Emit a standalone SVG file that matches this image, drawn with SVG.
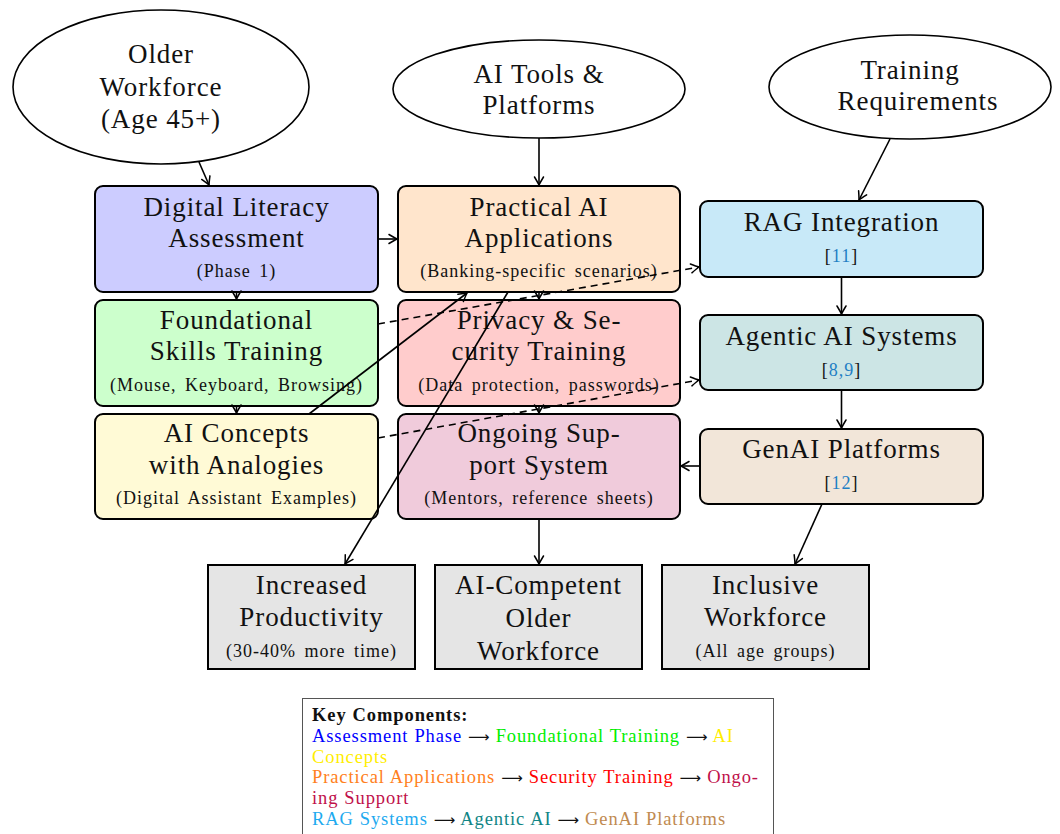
<svg xmlns="http://www.w3.org/2000/svg" width="1060" height="834" viewBox="0 0 1060 834">
  <style>
    text { font-family: "Liberation Serif", "Times New Roman", serif; fill: #111; }
    .t { font-size: 27px; text-anchor: middle; letter-spacing: 0.9px; }
    .s { font-size: 18px; text-anchor: middle; letter-spacing: 1px; word-spacing: 3px; }
    .ref { fill: #1f7fc4; }
    .src { fill: #fff; stroke: #000; stroke-width: 1.6; }
    .box { stroke: #000; stroke-width: 2; }
    .out { fill: #e5e5e5; stroke: #000; stroke-width: 2; }
    .c { fill: none; stroke: #000; stroke-width: 1.6; }
    .d { fill: none; stroke: #000; stroke-width: 1.6; stroke-dasharray: 7 5; }
    .lg { font-size: 18.5px; letter-spacing: 0.9px; word-spacing: 0.5px; }
    .ar { font-family: "DejaVu Sans", sans-serif; font-size: 15px; fill: #111; letter-spacing: 0; }
  </style>
  <defs>
    <marker id="arrow" viewBox="-10 -6 12 12" refX="0" refY="0" markerWidth="12" markerHeight="12" markerUnits="userSpaceOnUse" orient="auto">
      <path d="M -8 -4.5 Q -2.5 -1.2 0 0 Q -2.5 1.2 -8 4.5" fill="none" stroke="#000" stroke-width="1.5" stroke-linecap="round"/>
    </marker>
  </defs>

  <rect width="1060" height="834" fill="#fff"/>

  <!-- input ellipses -->
  <g id="older-workforce">
    <ellipse class="src" cx="161" cy="87" rx="148" ry="77"/>
    <text class="t" x="161" y="63">Older</text>
    <text class="t" x="161" y="96">Workforce</text>
    <text class="t" x="161" y="128">(Age 45+)</text>
  </g>
  <g id="ai-tools">
    <ellipse class="src" cx="539" cy="89" rx="146" ry="49"/>
    <text class="t" x="539" y="83">AI Tools &amp;</text>
    <text class="t" x="539" y="114">Platforms</text>
  </g>
  <g id="training-requirements">
    <ellipse class="src" cx="910" cy="87" rx="141" ry="52"/>
    <text class="t" x="910" y="79">Training</text>
    <text class="t" x="918" y="110">Requirements</text>
  </g>

  <!-- training phases -->
  <g id="digital-literacy">
    <rect class="box" x="95" y="186" width="283" height="106" rx="8" fill="#ccccff"/>
    <text class="t" x="236.5" y="216">Digital Literacy</text>
    <text class="t" x="236.5" y="247">Assessment</text>
    <text class="s" x="236.5" y="277">(Phase 1)</text>
  </g>
  <g id="practical-ai">
    <rect class="box" x="398" y="186" width="282" height="106" rx="8" fill="#ffe5cc"/>
    <text class="t" x="539" y="216">Practical AI</text>
    <text class="t" x="539" y="247">Applications</text>
    <text class="s" x="539" y="277">(Banking-specific scenarios)</text>
  </g>
  <g id="rag-integration">
    <rect class="box" x="700" y="201" width="283" height="76" rx="8" fill="#c8e9f8"/>
    <text class="t" x="841.5" y="231">RAG Integration</text>
    <text class="s" x="841.5" y="262">[<tspan class="ref">11</tspan>]</text>
  </g>
  <g id="foundational-skills">
    <rect class="box" x="95" y="300" width="283" height="106" rx="8" fill="#ccffcc"/>
    <text class="t" x="236.5" y="329">Foundational</text>
    <text class="t" x="236.5" y="360">Skills Training</text>
    <text class="s" x="236.5" y="391">(Mouse, Keyboard, Browsing)</text>
  </g>
  <g id="privacy-security">
    <rect class="box" x="398" y="300" width="282" height="106" rx="8" fill="#ffcccc"/>
    <text class="t" x="539" y="329">Privacy &amp; Se-</text>
    <text class="t" x="539" y="360">curity Training</text>
    <text class="s" x="539" y="391">(Data protection, passwords)</text>
  </g>
  <g id="agentic-ai">
    <rect class="box" x="700" y="315" width="283" height="75" rx="8" fill="#cce5e5"/>
    <text class="t" x="841.5" y="345">Agentic AI Systems</text>
    <text class="s" x="841.5" y="376">[<tspan class="ref">8,9</tspan>]</text>
  </g>
  <g id="ai-concepts">
    <rect class="box" x="95" y="414" width="283" height="105" rx="8" fill="#fffad6"/>
    <text class="t" x="236.5" y="442">AI Concepts</text>
    <text class="t" x="236.5" y="474">with Analogies</text>
    <text class="s" x="236.5" y="504">(Digital Assistant Examples)</text>
  </g>
  <g id="ongoing-support">
    <rect class="box" x="398" y="414" width="282" height="105" rx="8" fill="#f0cbdb"/>
    <text class="t" x="539" y="442">Ongoing Sup-</text>
    <text class="t" x="539" y="474">port System</text>
    <text class="s" x="539" y="504">(Mentors, reference sheets)</text>
  </g>
  <g id="genai-platforms">
    <rect class="box" x="700" y="429" width="283" height="75" rx="8" fill="#f2e6d9"/>
    <text class="t" x="841.5" y="458">GenAI Platforms</text>
    <text class="s" x="841.5" y="489">[<tspan class="ref">12</tspan>]</text>
  </g>

  <!-- outcomes -->
  <g id="increased-productivity">
    <rect class="out" x="208" y="565" width="207" height="104"/>
    <text class="t" x="311.5" y="594">Increased</text>
    <text class="t" x="311.5" y="626">Productivity</text>
    <text class="s" x="311.5" y="657">(30-40% more time)</text>
  </g>
  <g id="ai-competent">
    <rect class="out" x="435" y="565" width="207" height="104"/>
    <text class="t" x="538.5" y="594">AI-Competent</text>
    <text class="t" x="538.5" y="627">Older</text>
    <text class="t" x="538.5" y="660">Workforce</text>
  </g>
  <g id="inclusive-workforce">
    <rect class="out" x="662" y="565" width="207" height="104"/>
    <text class="t" x="765.5" y="594">Inclusive</text>
    <text class="t" x="765.5" y="626">Workforce</text>
    <text class="s" x="765.5" y="657">(All age groups)</text>
  </g>

  <!-- connectors -->
  <g id="connectors">
    <line class="c" x1="199" y1="162" x2="209" y2="185" marker-end="url(#arrow)"/>
    <line class="c" x1="539" y1="138" x2="539" y2="185" marker-end="url(#arrow)"/>
    <line class="c" x1="890" y1="139" x2="859" y2="200" marker-end="url(#arrow)"/>
    <line class="c" x1="378" y1="239" x2="397" y2="239" marker-end="url(#arrow)"/>
    <line class="c" x1="236.5" y1="292" x2="236.5" y2="299" marker-end="url(#arrow)"/>
    <line class="c" x1="236.5" y1="406" x2="236.5" y2="413" marker-end="url(#arrow)"/>
    <line class="c" x1="539" y1="292" x2="539" y2="299" marker-end="url(#arrow)"/>
    <line class="c" x1="539" y1="406" x2="539" y2="413" marker-end="url(#arrow)"/>
    <line class="c" x1="841.5" y1="277" x2="841.5" y2="314" marker-end="url(#arrow)"/>
    <line class="c" x1="841.5" y1="390" x2="841.5" y2="428" marker-end="url(#arrow)"/>
    <line class="c" x1="700" y1="466" x2="681" y2="466" marker-end="url(#arrow)"/>
    <line class="d" x1="378" y1="324" x2="699" y2="267" marker-end="url(#arrow)"/>
    <line class="d" x1="378" y1="438" x2="699" y2="380" marker-end="url(#arrow)"/>
    <line class="c" x1="309" y1="414" x2="467" y2="293" marker-end="url(#arrow)"/>
    <line class="c" x1="508" y1="292" x2="345" y2="564" marker-end="url(#arrow)"/>
    <line class="c" x1="539" y1="519" x2="539" y2="564" marker-end="url(#arrow)"/>
    <line class="c" x1="822" y1="504" x2="795" y2="564" marker-end="url(#arrow)"/>
  </g>

  <!-- legend -->
  <g id="legend">
    <rect x="302.5" y="698.5" width="471" height="150" fill="#fff" stroke="#555" stroke-width="1"/>
    <text class="lg" x="312" y="721" font-weight="bold" letter-spacing="0.6">Key Components:</text>
    <text class="lg" x="312" y="742"><tspan fill="#0000ff">Assessment Phase</tspan> <tspan class="ar">⟶</tspan> <tspan fill="#00ee00">Foundational Training</tspan> <tspan class="ar">⟶</tspan> <tspan fill="#ffee00">AI</tspan></text>
    <text class="lg" x="312" y="763"><tspan fill="#ffee00">Concepts</tspan></text>
    <text class="lg" x="312" y="783"><tspan fill="#ff8020">Practical Applications</tspan> <tspan class="ar">⟶</tspan> <tspan fill="#ff0000">Security Training</tspan> <tspan class="ar">⟶</tspan> <tspan fill="#c0104a">Ongo-</tspan></text>
    <text class="lg" x="312" y="804"><tspan fill="#c0104a">ing Support</tspan></text>
    <text class="lg" x="312" y="825"><tspan fill="#1eaaef">RAG Systems</tspan> <tspan class="ar">⟶</tspan> <tspan fill="#108585">Agentic AI</tspan> <tspan class="ar">⟶</tspan> <tspan fill="#c08a50">GenAI Platforms</tspan></text>
  </g>
</svg>
